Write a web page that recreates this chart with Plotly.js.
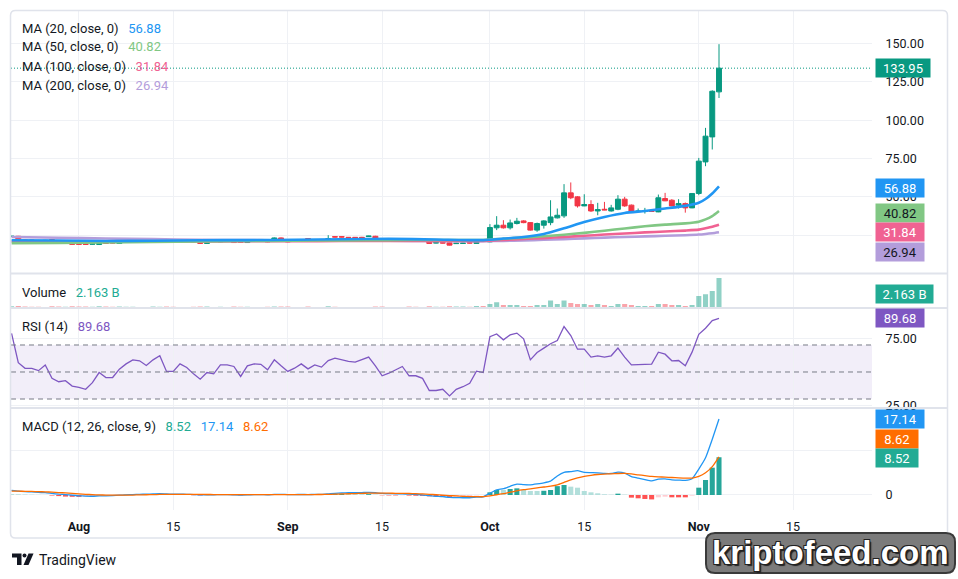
<!DOCTYPE html>
<html>
<head>
<meta charset="utf-8">
<script src="https://cdn.plot.ly/plotly-3.0.1.min.js"></script>
<style>
html,body{margin:0;padding:0;background:#ffffff;}
#chart{width:958px;height:579px;}
</style>
</head>
<body>
<div id="chart"></div>
<script>
// ---------------- DATA ----------------
const dates = [
'2024-07-22','2024-07-23','2024-07-24','2024-07-25','2024-07-26','2024-07-27','2024-07-28','2024-07-29','2024-07-30','2024-07-31',
'2024-08-01','2024-08-02','2024-08-03','2024-08-04','2024-08-05','2024-08-06','2024-08-07','2024-08-08','2024-08-09','2024-08-10',
'2024-08-11','2024-08-12','2024-08-13','2024-08-14','2024-08-15','2024-08-16','2024-08-17','2024-08-18','2024-08-19','2024-08-20',
'2024-08-21','2024-08-22','2024-08-23','2024-08-24','2024-08-25','2024-08-26','2024-08-27','2024-08-28','2024-08-29','2024-08-30',
'2024-08-31','2024-09-01','2024-09-02','2024-09-03','2024-09-04','2024-09-05','2024-09-06','2024-09-07','2024-09-08','2024-09-09',
'2024-09-10','2024-09-11','2024-09-12','2024-09-13','2024-09-14','2024-09-15','2024-09-16','2024-09-17','2024-09-18','2024-09-19',
'2024-09-20','2024-09-21','2024-09-22','2024-09-23','2024-09-24','2024-09-25','2024-09-26','2024-09-27','2024-09-28','2024-09-29',
'2024-09-30','2024-10-01','2024-10-02','2024-10-03','2024-10-04','2024-10-05','2024-10-06','2024-10-07','2024-10-08','2024-10-09',
'2024-10-10','2024-10-11','2024-10-12','2024-10-13','2024-10-14','2024-10-15','2024-10-16','2024-10-17','2024-10-18','2024-10-19',
'2024-10-20','2024-10-21','2024-10-22','2024-10-23','2024-10-24','2024-10-25','2024-10-26','2024-10-27','2024-10-28','2024-10-29',
'2024-10-30','2024-10-31','2024-11-01','2024-11-02','2024-11-03','2024-11-04'];

const opens = [
24.0,24.3,21.9,21.8,21.4,21.3,22.1,20.2,19.9,20.2,
19.3,19.2,19.1,18.9,20.6,20.2,19.6,20.8,21.4,21.8,
21.8,20.6,22.0,22.1,21.3,21.5,21.8,21.7,21.1,19.6,
21.2,20.6,21.6,21.7,21.5,20.2,21.9,22.2,22.1,21.1,
23.2,22.1,21.5,21.9,22.8,21.9,22.2,21.7,24.0,24.0,
23.6,23.6,23.6,24.1,24.3,22.8,21.9,22.0,22.2,22.8,
21.8,21.8,21.7,19.9,20.1,20.0,19.5,19.6,20.1,19.6,
21.7,20.6,29.8,31.5,29.8,32.6,34.3,33.2,28.3,31.5,
33.2,36.3,37.6,52.6,50.0,44.1,45.0,40.8,41.9,40.8,
41.9,48.5,44.6,40.4,40.5,40.8,40.2,48.9,47.8,44.6,
45.6,42.8,52.2,72.8,89.1,118.5];

const highs = [
24.6,24.5,22.3,22.0,21.9,21.9,22.6,20.5,20.4,20.5,
19.5,19.4,19.7,20.8,20.9,20.5,20.9,21.4,22.0,22.1,
22.0,22.7,22.5,22.6,21.6,22.0,22.0,22.0,21.3,21.4,
21.5,22.0,22.2,22.0,21.8,22.0,22.4,22.5,22.4,23.5,
23.5,22.4,22.0,22.4,23.0,22.4,22.4,25.0,24.3,24.2,
23.8,23.8,23.9,24.6,24.6,23.0,22.4,22.5,22.4,23.0,
22.0,22.0,22.0,20.4,20.3,20.2,20.0,20.1,20.3,22.0,
22.0,32.2,37.4,34.8,35.2,36.3,34.8,33.5,33.2,34.8,
47.8,42.4,58.3,59.4,50.5,51.7,47.8,46.1,46.7,44.8,
51.1,50.0,45.0,42.4,42.8,41.2,51.5,52.6,48.5,48.5,
46.3,52.4,75.4,95.0,119.5,149.6];

const lows = [
23.8,21.0,21.3,21.3,20.9,21.1,19.9,19.7,19.7,18.8,
18.8,18.7,18.9,18.7,19.3,19.7,19.4,20.6,21.2,21.4,
21.3,20.4,21.8,20.4,20.8,21.3,21.4,20.4,19.4,19.4,
20.8,20.4,21.4,20.0,20.1,20.0,21.7,21.8,20.4,20.9,
21.5,20.4,21.3,21.7,21.1,21.7,21.8,21.5,23.6,23.6,
23.2,23.2,23.2,23.9,21.5,21.1,21.7,21.8,21.8,21.1,
21.4,21.3,19.4,19.7,19.7,18.3,19.3,19.4,19.7,19.4,
21.0,20.4,28.3,29.3,28.7,32.0,32.8,28.0,27.2,29.3,
31.5,35.9,36.3,48.5,43.0,43.9,40.2,38.0,41.3,40.4,
41.3,43.5,39.9,40.2,39.1,40.2,40.0,47.2,43.9,42.4,
39.7,42.6,51.1,70.0,80.9,114.5];

const closes = [
24.3,21.2,21.6,21.6,21.1,21.6,20.1,19.9,20.1,19.0,
19.1,19.0,19.4,20.6,19.6,19.9,20.6,21.1,21.7,21.6,
21.5,22.4,22.2,20.6,21.0,21.8,21.6,20.6,19.6,21.1,
21.0,21.7,21.8,20.2,20.3,21.7,22.1,22.0,20.6,23.2,
21.7,20.6,21.7,22.1,21.3,22.1,22.0,22.8,23.8,23.8,
23.4,23.4,23.4,24.4,21.7,21.3,22.1,22.2,22.0,21.3,
21.6,21.5,19.6,20.1,19.9,18.5,19.7,19.8,19.9,21.7,
21.2,30.0,31.5,29.8,33.0,34.1,33.2,28.3,32.6,34.3,
36.9,38.0,52.6,49.4,44.1,45.0,40.8,41.7,41.5,42.8,
48.5,44.1,40.2,40.7,40.7,40.5,49.4,47.4,44.1,45.6,
42.8,52.2,73.3,89.6,118.9,133.95];

// volume in billions
const volumes = [
0.12,0.14,0.10,0.09,0.09,0.08,0.12,0.10,0.09,0.12,
0.11,0.10,0.09,0.12,0.10,0.09,0.10,0.09,0.09,0.08,
0.08,0.11,0.09,0.11,0.09,0.08,0.08,0.09,0.11,0.10,
0.08,0.09,0.08,0.10,0.09,0.09,0.08,0.08,0.09,0.11,
0.10,0.10,0.08,0.08,0.10,0.08,0.08,0.12,0.09,0.08,
0.08,0.08,0.07,0.08,0.11,0.10,0.08,0.08,0.08,0.10,
0.09,0.08,0.12,0.09,0.09,0.12,0.10,0.10,0.09,0.14,
0.14,0.29,0.41,0.22,0.22,0.22,0.14,0.14,0.22,0.22,
0.55,0.29,0.55,0.36,0.29,0.29,0.22,0.29,0.22,0.14,
0.29,0.29,0.22,0.14,0.14,0.14,0.29,0.29,0.22,0.22,
0.14,0.22,0.87,0.99,1.23,2.163];

const rsi = [
78.6,56.9,52.7,52.7,51.0,55.2,45.3,42.8,43.6,39.6,
38.6,37.2,42.1,49.6,45.9,45.9,52.1,56.0,59.0,58.3,
54.8,59.0,62.0,50.4,50.4,56.0,53.3,48.6,44.7,49.6,
48.6,55.2,55.2,54.1,46.7,54.6,56.0,55.7,51.6,59.0,
54.6,50.4,52.8,56.0,52.3,55.2,53.6,58.5,60.2,59.0,
57.8,57.3,59.0,61.0,54.6,47.2,49.1,51.6,54.1,47.2,
47.2,45.3,36.3,36.3,37.2,32.3,37.2,39.1,41.6,50.6,
49.6,76.2,78.2,73.8,77.5,78.8,74.6,59.0,64.4,67.7,
70.9,73.3,83.7,77.0,66.9,66.9,61.0,62.0,61.0,62.0,
67.7,61.0,55.3,55.5,55.8,55.8,64.7,63.2,58.3,58.5,
54.6,64.7,77.9,82.4,88.1,89.68];

const macdLine = [
1.05,0.85,0.75,0.68,0.58,0.52,0.35,0.20,0.10,-0.05,
-0.18,-0.26,-0.28,-0.20,-0.18,-0.14,-0.05,0.03,0.10,0.15,
0.18,0.22,0.28,0.22,0.18,0.18,0.15,0.10,0.02,0.04,
0.05,0.08,0.10,0.05,0.00,0.03,0.08,0.10,0.05,0.14,
0.15,0.10,0.10,0.12,0.10,0.12,0.13,0.25,0.38,0.45,
0.50,0.52,0.55,0.60,0.50,0.35,0.30,0.28,0.28,0.20,
0.12,0.04,-0.15,-0.28,-0.38,-0.55,-0.60,-0.62,-0.62,-0.48,
-0.40,0.40,1.18,1.43,1.97,2.45,2.33,2.30,2.50,2.75,
3.13,4.30,5.11,5.28,5.50,5.10,5.05,5.00,4.87,4.86,
5.15,4.96,4.15,3.80,3.48,3.20,3.57,3.65,3.42,3.35,
3.29,3.67,5.85,8.39,12.57,17.14];

const signalLine = [
0.85,0.85,0.83,0.80,0.76,0.71,0.64,0.55,0.46,0.36,
0.25,0.15,0.07,0.02,-0.02,-0.04,-0.04,-0.03,-0.01,0.02,
0.05,0.08,0.12,0.14,0.15,0.16,0.16,0.15,0.13,0.11,
0.10,0.10,0.10,0.09,0.07,0.06,0.06,0.07,0.07,0.08,
0.09,0.09,0.09,0.10,0.10,0.10,0.11,0.14,0.18,0.23,
0.28,0.32,0.37,0.41,0.43,0.42,0.40,0.38,0.36,0.33,
0.29,0.24,0.16,0.07,-0.02,-0.13,-0.22,-0.30,-0.36,-0.38,
-0.39,-0.20,0.05,0.30,0.62,0.95,1.20,1.40,1.60,1.80,
2.00,2.30,2.85,3.40,3.85,4.20,4.45,4.62,4.72,4.78,
4.85,4.88,4.75,4.55,4.38,4.20,4.10,4.03,3.95,3.88,
3.82,3.82,4.20,5.00,6.40,8.62];

const histogram = [
0.20,0.15,0.10,0.06,0.03,0.01,-0.12,-0.25,-0.36,-0.41,
-0.43,-0.41,-0.35,-0.22,-0.16,-0.10,-0.01,0.06,0.11,0.13,
0.13,0.14,0.16,0.08,0.03,0.02,-0.01,-0.05,-0.11,-0.07,
-0.05,-0.02,0.00,-0.04,-0.07,-0.03,0.02,0.03,-0.02,0.06,
0.06,0.01,0.01,0.02,0.00,0.02,0.02,0.11,0.20,0.22,
0.22,0.20,0.18,0.19,0.07,-0.07,-0.10,-0.10,-0.08,-0.13,
-0.17,-0.20,-0.31,-0.35,-0.36,-0.42,-0.38,-0.32,-0.26,-0.10,
-0.01,0.60,1.13,1.13,1.35,1.50,1.13,0.90,0.90,0.95,
1.13,2.00,2.26,1.88,1.65,0.90,0.60,0.38,0.15,0.08,
0.30,0.08,-0.60,-0.75,-0.90,-1.00,-0.53,-0.38,-0.53,-0.53,
-0.53,-0.15,1.65,3.39,6.17,8.52];

// moving averages read at sample dates
const maDates = ['2024-07-22','2024-07-29','2024-08-05','2024-08-12','2024-08-19','2024-08-26','2024-09-02','2024-09-09','2024-09-16','2024-09-23','2024-09-30','2024-10-03','2024-10-06','2024-10-09','2024-10-12','2024-10-15','2024-10-18','2024-10-21','2024-10-24','2024-10-27','2024-10-30','2024-11-01','2024-11-02','2024-11-03','2024-11-04'];
const ma20  = [21.7,21.5,21.2,21.4,21.7,21.8,22.0,22.3,22.6,22.2,21.8,22.8,23.8,25.8,29.5,33.6,36.9,39.5,40.8,42.4,44.1,46.1,48.6,52.2,56.88];
const ma50  = [19.8,20.0,20.3,20.6,20.9,21.2,21.4,21.6,21.8,21.9,21.9,22.7,23.4,24.3,25.3,26.5,27.9,29.4,30.8,31.9,32.7,33.8,35.3,37.5,40.82];
const ma100 = [20.9,20.8,20.8,20.8,20.9,21.0,21.1,21.2,21.3,21.3,21.3,21.9,22.5,23.1,23.8,24.6,25.4,26.1,26.8,27.4,28.0,28.6,29.5,30.5,31.84];
const ma200 = [23.8,23.3,22.8,22.4,22.0,21.8,21.6,21.5,21.4,21.2,21.1,21.3,21.6,22.0,22.4,22.9,23.4,23.8,24.2,24.6,25.0,25.4,25.8,26.3,26.94];

const xTickVals = ['2024-08-01','2024-08-15','2024-09-01','2024-09-15','2024-10-01','2024-10-15','2024-11-01','2024-11-15'];
const xTickText = ['<b>Aug</b>','15','<b>Sep</b>','15','<b>Oct</b>','15','<b>Nov</b>','15'];
const priceTicks = [25,50,75,100,125,150];
const priceTickText = ['','50.00','75.00','100.00','125.00','150.00'];
const rsiTicks = [25,75];
const macdTicks = [0,10];
const macdTickText = ['0',''];
const volumeText = '2.163 B';

// ---------------- STYLE / LAYOUT ----------------
const C = {
  up:'#089981', down:'#f23645', text:'#131722', grid:'#eff1f5', sep:'#e0e3eb',
  ma20:'#2196f3', ma50:'#81c784', ma100:'#f06292', ma200:'#b39ddb',
  vol:'#22ab94', rsi:'#7e57c2', macd:'#2196f3', sig:'#ff6d00'
};
const L=11, R=872, T=10, B=510;
const px = X => (X-L)/(R-L);
const py = Y => (B-Y)/(B-T);
const last = a => a[a.length-1];
const f2 = v => v.toFixed(2);
const NB = '\u00a0';

const volColors = closes.map((c,i)=> c>=opens[i] ? 'rgba(8,153,129,0.45)' : 'rgba(242,54,69,0.45)');
const histColors = histogram.map((h,i)=>{
  const prev = i>0 ? histogram[i-1] : h;
  if (h>=0) return h>prev ? '#26a69a' : '#b2dfdb';
  return h>prev ? '#ffcdd2' : '#ff5252';
});

function maTrace(y,color){
  return {type:'scatter', mode:'lines', x:maDates, y:y, xaxis:'x', yaxis:'y',
    line:{color:color, width:2.6, shape:'spline', smoothing:0.6}, hoverinfo:'skip'};
}

const traces = [
  maTrace(ma200, C.ma200), maTrace(ma100, C.ma100), maTrace(ma50, C.ma50), maTrace(ma20, C.ma20),
  {type:'candlestick', x:dates, open:opens, high:highs, low:lows, close:closes, xaxis:'x', yaxis:'y',
   increasing:{line:{color:C.up, width:1}, fillcolor:C.up},
   decreasing:{line:{color:C.down, width:1}, fillcolor:C.down},
   whiskerwidth:0, hoverinfo:'skip'},
  {type:'bar', x:dates, y:volumes, xaxis:'x', yaxis:'y2', marker:{color:volColors, line:{width:0}}, hoverinfo:'skip'},
  {type:'scatter', mode:'lines', x:dates, y:rsi, xaxis:'x', yaxis:'y3', line:{color:C.rsi, width:1.3}, hoverinfo:'skip'},
  {type:'bar', x:dates, y:histogram, xaxis:'x', yaxis:'y4', marker:{color:histColors, line:{width:0}}, hoverinfo:'skip'},
  {type:'scatter', mode:'lines', x:dates, y:macdLine, xaxis:'x', yaxis:'y4', line:{color:C.macd, width:1.3, shape:'spline', smoothing:0.5}, hoverinfo:'skip'},
  {type:'scatter', mode:'lines', x:dates, y:signalLine, xaxis:'x', yaxis:'y4', line:{color:C.sig, width:1.3, shape:'spline', smoothing:0.5}, hoverinfo:'skip'}
];

function rr(X0,Y0,X1,Y1,r){
  return 'M'+px(X0+r)+','+py(Y0)+' L'+px(X1-r)+','+py(Y0)+' Q'+px(X1)+','+py(Y0)+' '+px(X1)+','+py(Y0+r)+
    ' L'+px(X1)+','+py(Y1-r)+' Q'+px(X1)+','+py(Y1)+' '+px(X1-r)+','+py(Y1)+
    ' L'+px(X0+r)+','+py(Y1)+' Q'+px(X0)+','+py(Y1)+' '+px(X0)+','+py(Y1-r)+
    ' L'+px(X0)+','+py(Y0+r)+' Q'+px(X0)+','+py(Y0)+' '+px(X0+r)+','+py(Y0)+' Z';
}
function poly(pts){
  return 'M'+pts.map(p=>px(p[0])+','+py(p[1])).join(' L')+' Z';
}

const lastClose = last(closes);
const shapes = [
  {type:'rect', xref:'paper', yref:'y3', x0:0, x1:1, y0:30, y1:70, fillcolor:'rgba(126,87,194,0.1)', line:{width:0}, layer:'below'},
  {type:'line', xref:'paper', yref:'y3', x0:0, x1:1, y0:70, y1:70, line:{color:'#787b86', width:1, dash:'5px,4px'}},
  {type:'line', xref:'paper', yref:'y3', x0:0, x1:1, y0:50, y1:50, line:{color:'#787b86', width:1, dash:'5px,4px'}},
  {type:'line', xref:'paper', yref:'y3', x0:0, x1:1, y0:30, y1:30, line:{color:'#787b86', width:1, dash:'5px,4px'}},
  {type:'line', xref:'paper', yref:'y', x0:0, x1:1, y0:lastClose, y1:lastClose, line:{color:C.up, width:1, dash:'1px,2px'}},
  {type:'line', xref:'paper', yref:'paper', x0:px(11), x1:px(947), y0:py(273.5), y1:py(273.5), line:{color:C.sep, width:2}},
  {type:'line', xref:'paper', yref:'paper', x0:px(11), x1:px(947), y0:py(308), y1:py(308), line:{color:C.sep, width:2}},
  {type:'line', xref:'paper', yref:'paper', x0:px(11), x1:px(947), y0:py(408), y1:py(408), line:{color:C.sep, width:2}},
  {type:'path', xref:'paper', yref:'paper', path:rr(10.5,10.5,947.5,538,5), line:{color:C.sep, width:1.5}, fillcolor:'rgba(0,0,0,0)'},
  // TradingView logo
  {type:'path', xref:'paper', yref:'paper', path:poly([[12,553.5],[21.5,553.5],[21.5,565],[17,565],[17,557.5],[12,557.5]]), fillcolor:'#131722', line:{width:0}},
  {type:'circle', xref:'paper', yref:'paper', x0:px(22.5), x1:px(26.5), y0:py(553.5), y1:py(557.5), fillcolor:'#131722', line:{width:0}},
  {type:'path', xref:'paper', yref:'paper', path:poly([[28.5,553.5],[33.5,553.5],[28.5,565],[23.5,565]]), fillcolor:'#131722', line:{width:0}},
  // watermark box
  {type:'path', xref:'paper', yref:'paper', path:rr(706,533,955,573,9), fillcolor:'#7b7b7b', line:{color:'#3a3a3a', width:2}}
];

const legendFont = {family:'Roboto, sans-serif', size:13, color:C.text};
function leg(Y, html){
  return {xref:'paper', yref:'paper', x:px(19.5), y:py(Y), xanchor:'left', yanchor:'middle', showarrow:false, text:html, font:legendFont};
}
const sp = (c,t)=>'<span style="color:'+c+'">'+t+'</span>';
function box(yref, y, txt, bg, fg, w){
  return {xref:'paper', yref:yref, x:px(875), y:y, xanchor:'left', yanchor:'middle', showarrow:false,
    text:txt, bgcolor:bg, font:{family:'Roboto, sans-serif', size:13, color:fg}, width:w, height:18, borderpad:0, align:'center'};
}

const annotations = [
  leg(28.3, 'MA (20, close, 0)'+NB+NB+NB+sp(C.ma20, f2(last(ma20)))),
  leg(47.0, 'MA (50, close, 0)'+NB+NB+NB+sp(C.ma50, f2(last(ma50)))),
  leg(66.7, 'MA (100, close, 0)'+NB+NB+NB+sp(C.ma100, f2(last(ma100)))),
  leg(85.5, 'MA (200, close, 0)'+NB+NB+NB+sp(C.ma200, f2(last(ma200)))),
  leg(292.5, 'Volume'+NB+NB+NB+sp(C.vol, volumeText)),
  leg(326.7, 'RSI (14)'+NB+NB+NB+sp(C.rsi, f2(last(rsi)))),
  leg(426.7, 'MACD (12, 26, close, 9)'+NB+NB+NB+sp(C.vol, f2(last(histogram)))+NB+NB+NB+sp(C.macd, f2(last(macdLine)))+NB+NB+NB+sp(C.sig, f2(last(signalLine)))),
  box('y', lastClose, f2(lastClose), C.up, '#ffffff', 54),
  box('paper', py(187.7), f2(last(ma20)), C.ma20, '#ffffff', 48),
  box('paper', py(212.6), f2(last(ma50)), C.ma50, '#131722', 48),
  box('paper', py(232.5), f2(last(ma100)), C.ma100, '#ffffff', 48),
  box('paper', py(251.5), f2(last(ma200)), C.ma200, '#131722', 48),
  box('paper', py(294), volumeText, C.vol, '#ffffff', 57),
  box('y3', last(rsi), f2(last(rsi)), C.rsi, '#ffffff', 48),
  box('y4', last(macdLine), f2(last(macdLine)), C.macd, '#ffffff', 48),
  box('paper', py(438.5), f2(last(signalLine)), C.sig, '#ffffff', 42),
  box('paper', py(457.5), f2(last(histogram)), C.vol, '#ffffff', 42),
  {xref:'paper', yref:'paper', x:px(37), y:py(559.5), xanchor:'left', yanchor:'middle', showarrow:false,
   text:'TradingView', font:{family:'Roboto, sans-serif', size:14, color:C.text}},
  {xref:'paper', yref:'paper', x:px(830.5), y:py(552), xanchor:'center', yanchor:'middle', showarrow:false,
   text:'<b>kriptofeed.com</b>', font:{family:'Liberation Sans Narrow, Liberation Sans, sans-serif', size:33, color:'#ffffff',
   shadow:'1px 1px 0 #222, -1px -1px 0 #222, 1px -1px 0 #222, -1px 1px 0 #222, 2px 2px 1px #222'}}
];

const axisFont = {family:'Roboto, sans-serif', size:12.5, color:C.text};
const rightAxis = {side:'right', anchor:'x', zeroline:false, showline:false, ticks:'outside', ticklen:10, tickcolor:'rgba(0,0,0,0)',
  gridcolor:C.grid, gridwidth:1, tickfont:axisFont, fixedrange:true, tickmode:'array'};

const layout = {
  width:958, height:579,
  margin:{l:L, r:958-R, t:T, b:579-B, pad:0},
  paper_bgcolor:'#ffffff', plot_bgcolor:'#ffffff',
  font:{family:'Roboto, sans-serif', size:12.5, color:C.text},
  showlegend:false, hovermode:false, dragmode:false,
  bargap:0.25, boxgap:0.27, boxgroupgap:0,
  xaxis:{type:'date', range:['2024-07-21 22:00','2024-11-26 17:00'], anchor:'y4',
    tickmode:'array', tickvals:xTickVals, ticktext:xTickText,
    showgrid:true, gridcolor:C.grid, gridwidth:1, zeroline:false, showline:false,
    ticks:'outside', ticklen:5, tickcolor:'rgba(0,0,0,0)', tickfont:axisFont,
    rangeslider:{visible:false}, fixedrange:true},
  yaxis:Object.assign({}, rightAxis, {domain:[py(273.5),1], range:[0,171.9], tickvals:priceTicks, ticktext:priceTickText}),
  yaxis2:{domain:[py(308),py(273.5)], range:[0,2.49], anchor:'x', showticklabels:false, showgrid:false, zeroline:false, fixedrange:true},
  yaxis3:Object.assign({}, rightAxis, {domain:[py(408),py(308)], range:[23.33,97.4], tickvals:rsiTicks, tickformat:'.2f'}),
  yaxis4:Object.assign({}, rightAxis, {domain:[0,py(408)], range:[-3.39,19.64], tickvals:macdTicks, ticktext:macdTickText}),
  shapes:shapes,
  annotations:annotations
};

Plotly.newPlot('chart', traces, layout, {displayModeBar:false, staticPlot:true});
</script>
</body>
</html>
